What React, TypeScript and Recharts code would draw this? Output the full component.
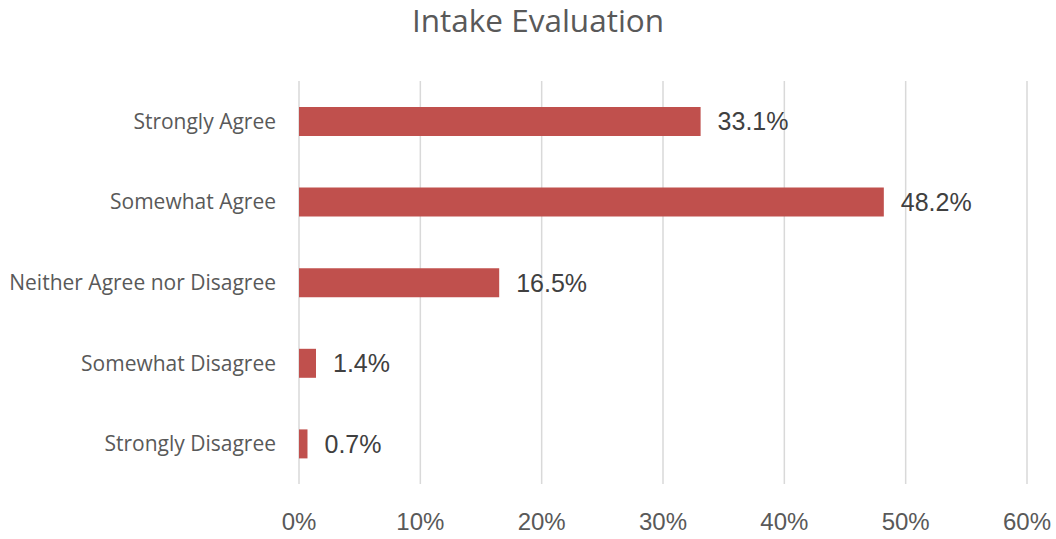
import React from 'react';
import { BarChart, Bar, XAxis, YAxis, CartesianGrid, LabelList } from 'recharts';

const categories = [
  'Strongly Agree',
  'Somewhat Agree',
  'Neither Agree nor Disagree',
  'Somewhat Disagree',
  'Strongly Disagree',
];
const shares = [33.1, 48.2, 16.5, 1.4, 0.7];
const xTicks = [0, 10, 20, 30, 40, 50, 60];

const data = categories.map((name, i) => ({ name, value: shares[i] }));

const App: React.FC = () => {
  return (
    <div style={{ position: 'absolute', left: 0, top: 0, width: 1056, height: 539, background: '#fff' }}>
      <div
        style={{
          position: 'absolute',
          left: 0,
          top: -2,
          width: 1076,
          textAlign: 'center',
          fontFamily: '"Open Sans", sans-serif',
          fontSize: 31.5,
          color: '#595959',
        }}
      >
        Intake Evaluation
      </div>
      <BarChart
        width={1056}
        height={539}
        data={data}
        layout="vertical"
        margin={{ top: 81, right: 29, left: 0, bottom: 0 }}
      >
        <CartesianGrid horizontal={false} stroke="#d9d9d9" strokeWidth={1.5} />
        <XAxis
          type="number"
          domain={[0, 60]}
          ticks={xTicks}
          tickFormatter={(v: number) => `${v}%`}
          axisLine={false}
          tickLine={false}
          tickSize={0}
          tickMargin={29}
          height={55}
          tick={{ fill: '#595959', fontSize: 24, fontFamily: '"Liberation Sans", Arial, sans-serif' }}
        />
        <YAxis
          type="category"
          dataKey="name"
          width={299}
          axisLine={false}
          tickLine={false}
          tickSize={0}
          tickMargin={23}
          tick={{ fill: '#595959', fontSize: 21, fontFamily: '"Open Sans", sans-serif' }}
        />
        <Bar dataKey="value" fill="#c0504d" barSize={29} isAnimationActive={false}>
          <LabelList
            dataKey="value"
            position="right"
            offset={17}
            formatter={(v: number) => `${v.toFixed(1)}%`}
            fill="#404040"
            fontSize={25}
            fontFamily='"Liberation Sans", Arial, sans-serif'
          />
        </Bar>
      </BarChart>
    </div>
  );
};

export default App;
